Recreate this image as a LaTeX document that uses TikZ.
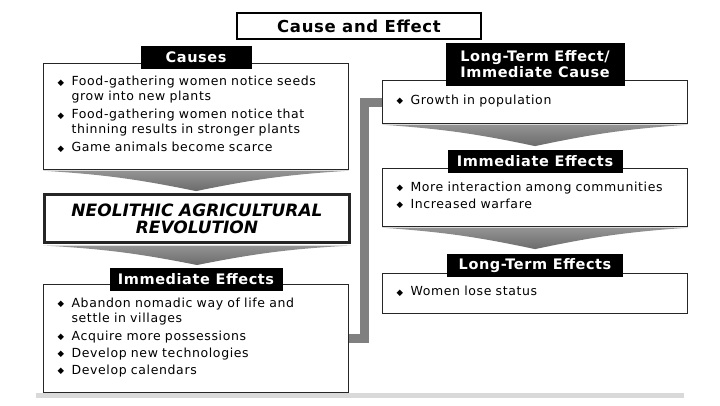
\documentclass[tikz,border=0pt]{standalone}
\usepackage{fontspec}
\setmainfont{DejaVu Sans}
\usetikzlibrary{positioning}

\newcommand\itm[1]{\par\noindent\makebox[14pt][l]{\raisebox{0.8pt}{\fontsize{8.5}{8}\selectfont ◆}}%
  \parbox[t]{263pt}{\raggedright\strut #1\strut}}

\tikzset{
  frame/.style={draw=black!85, line width=1.1pt, fill=white, anchor=north west,
    text width=277pt, inner xsep=14pt, inner ysep=2pt},
  box/.style={frame, align=left,
    font=\fontsize{12.5}{15}\selectfont\addfontfeature{LetterSpace=5},
    execute at begin node={\setlength{\parskip}{2pt}},
    execute at end node={\par\vspace{8pt}}},
  banner/.style={frame, line width=3pt, align=center,
    font=\fontsize{17}{17}\selectfont\bfseries\itshape},
  tag/.style={fill=black, text=white, font=\fontsize{14.5}{15.5}\selectfont\bfseries\addfontfeature{LetterSpace=4},
    inner sep=0pt, minimum height=23pt, align=center},
  funnel/.style={top color=black!42, bottom color=black!58},
  link/.style={draw=gray, line width=9pt},
}

\begin{document}
\begin{tikzpicture}[x=1pt,y=-1pt]
  \useasboundingbox (0,0) rectangle (720,405);

  \node[draw, line width=1.2pt, minimum width=244pt, minimum height=26pt,
    font=\fontsize{16.5}{18}\selectfont\bfseries\addfontfeature{LetterSpace=4}] (title) at (359,26) {Cause and Effect};

  % left column
  \node[box, minimum height=106pt] (causes) at (43,63)
    {\itm{Food-gathering women notice seeds\\grow into new plants}
     \itm{Food-gathering women notice that\\thinning results in stronger plants}
     \itm{Game animals become scarce}};
  \node[banner, minimum height=48pt] (rev) at (43,193)
    {NEOLITHIC AGRICULTURAL\\REVOLUTION};
  \node[box, minimum height=108pt] (imm1) at (43,284)
    {\itm{Abandon nomadic way of life and\\settle in villages}
     \itm{Acquire more possessions}
     \itm{Develop new technologies}
     \itm{Develop calendars}};

  % right column
  \node[box, minimum height=43pt] (ltc) at (382,80) {\itm{Growth in population}};
  \node[box, minimum height=58pt] (imm2) at (382,168)
    {\itm{More interaction among communities}
     \itm{Increased warfare}};
  \node[box, minimum height=40pt] (ltf) at (382,273) {\itm{Women lose status}};

  % funnels
  \path[funnel] ([yshift=-0.6pt]causes.south west) -- ([yshift=-0.6pt]causes.south east)
    to[bend right=4] ([yshift=-21pt]causes.south) to[bend right=4] cycle;
  \path[funnel] ([yshift=-1.5pt]rev.south west) -- ([yshift=-1.5pt]rev.south east)
    to[bend right=4] ([yshift=-21pt]rev.south) to[bend right=4] cycle;
  \path[funnel] ([yshift=-0.6pt]ltc.south west) -- ([yshift=-0.6pt]ltc.south east)
    to[bend right=4] ([yshift=-22pt]ltc.south) to[bend right=4] cycle;
  \path[funnel] ([yshift=-0.6pt]imm2.south west) -- ([yshift=-0.6pt]imm2.south east)
    to[bend right=4] ([yshift=-22pt]imm2.south) to[bend right=4] cycle;

  % labels
  \node[tag, minimum width=111pt, above=-6pt of causes] (causesTag) {Causes};
  \node[tag, minimum width=173pt, above=-7pt of imm1] (imm1Tag) {Immediate Effects};
  \node[tag, minimum width=179pt, minimum height=43pt, above=-6pt of ltc] (ltcTag)
    {Long-Term Effect/\\Immediate Cause};
  \node[tag, minimum width=175pt, above=-5pt of imm2] (imm2Tag) {Immediate Effects};
  \node[tag, minimum width=176pt, above=-4pt of ltf] (ltfTag) {Long-Term Effects};

  % connector
  \coordinate (elbow) at (364.5,0);
  \draw[link] (imm1.east) -| (elbow |- ltc.west) -- (ltc.west);

  \fill[gray!30] (36,393) rectangle (684,398);
\end{tikzpicture}
\end{document}
